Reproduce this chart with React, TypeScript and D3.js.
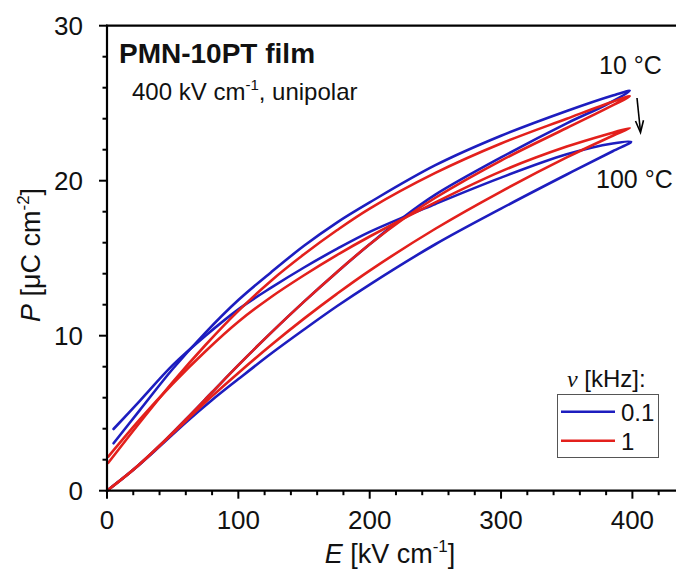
import React from "react";
import * as d3 from "d3";

const W = 676;
const H = 570;

// Axis ticks
const xMajorTicks = [0, 100, 200, 300, 400];
const yMajorTicks = [0, 10, 20, 30];
const xTickLabels = ["0", "100", "200", "300", "400"];
const yTickLabels = ["0", "10", "20", "30"];

// Legend
const legendLabels = ["0.1", "1"];
const seriesColors = ["#1d1dbf", "#e3201c"];

// 0.1 kHz, 10 °C
const b10LowerE = [0, 20, 40, 60, 80, 100, 125, 150, 175, 200, 225, 250, 300, 350, 380, 398];
const b10LowerP = [0, 1.35, 2.9, 4.6, 6.35, 8.1, 10.2, 12.2, 14.1, 15.9, 17.6, 19.1, 21.5, 23.7, 24.9, 25.8];
const b10UpperE = [398, 385, 350, 300, 250, 200, 175, 150, 125, 100, 75, 50, 25, 5];
const b10UpperP = [25.8, 25.5, 24.5, 22.9, 21.0, 18.6, 17.3, 15.8, 14.1, 12.3, 10.2, 7.85, 5.2, 3.06];

// 0.1 kHz, 100 °C
const b100LowerE = [0, 20, 40, 60, 80, 100, 125, 150, 175, 200, 250, 300, 350, 385, 399];
const b100LowerP = [0, 1.35, 2.85, 4.4, 5.85, 7.2, 8.85, 10.4, 11.9, 13.3, 15.9, 18.2, 20.4, 21.9, 22.5];
const b100UpperE = [399, 385, 350, 300, 250, 200, 175, 150, 125, 100, 75, 50, 25, 5];
const b100UpperP = [22.5, 22.4, 21.7, 20.2, 18.5, 16.7, 15.6, 14.4, 13.1, 11.7, 10.0, 8.1, 5.8, 3.98];

// 1 kHz, 10 °C
const r10LowerE = [0, 20, 40, 60, 80, 100, 125, 150, 175, 200, 225, 250, 300, 350, 380, 398];
const r10LowerP = [0, 1.35, 2.9, 4.6, 6.35, 8.1, 10.2, 12.2, 14.1, 15.9, 17.5, 18.9, 21.3, 23.4, 24.65, 25.45];
const r10UpperE = [398, 385, 350, 300, 250, 200, 175, 150, 125, 100, 75, 50, 25, 1];
const r10UpperP = [25.45, 25.1, 24.0, 22.4, 20.5, 18.2, 16.8, 15.25, 13.55, 11.6, 9.4, 7.0, 4.4, 1.8];

// 1 kHz, 100 °C
const r100LowerE = [0, 20, 40, 60, 80, 100, 125, 150, 175, 200, 250, 300, 350, 385, 398];
const r100LowerP = [0, 1.35, 2.9, 4.5, 6.1, 7.6, 9.4, 11.1, 12.7, 14.2, 16.9, 19.3, 21.5, 22.9, 23.4];
const r100UpperE = [398, 385, 350, 300, 250, 200, 175, 150, 125, 100, 75, 50, 25, 1];
const r100UpperP = [23.4, 23.1, 22.2, 20.6, 18.6, 16.4, 15.2, 13.9, 12.5, 10.9, 9.0, 6.9, 4.6, 2.2];

type Pt = [number, number];

function loop(le: number[], lp: number[], ue: number[], up: number[]): Pt[] {
  const pts: Pt[] = le.map((e, i) => [e, lp[i]] as Pt);
  ue.forEach((e, i) => {
    if (i === 0) return;
    pts.push([e, up[i]]);
  });
  return pts;
}

export default function App() {
  const x = d3.scaleLinear().domain([0, 433.2]).range([107, 676]);
  const y = d3.scaleLinear().domain([0, 30]).range([490.7, 25.7]);

  const line = d3
    .line<Pt>()
    .x((d) => x(d[0]))
    .y((d) => y(d[1]))
    .curve(d3.curveCatmullRom.alpha(0.5));

  const loops = [
    { pts: loop(b10LowerE, b10LowerP, b10UpperE, b10UpperP), color: seriesColors[0] },
    { pts: loop(b100LowerE, b100LowerP, b100UpperE, b100UpperP), color: seriesColors[0] },
    { pts: loop(r10LowerE, r10LowerP, r10UpperE, r10UpperP), color: seriesColors[1] },
    { pts: loop(r100LowerE, r100LowerP, r100UpperE, r100UpperP), color: seriesColors[1] },
  ];

  const xMinor = d3.range(0, 421, 20).filter((v) => v % 100 !== 0);
  const yMinor = d3.range(0, 31, 2).filter((v) => v % 10 !== 0);

  const font = "'Liberation Sans', Arial, sans-serif";
  const x0 = x(0);
  const y0 = y(0);

  return (
    <svg
      width={W}
      height={H}
      style={{ position: "absolute", left: 0, top: 0, background: "#fff" }}
      fontFamily={font}
    >
      <rect x={0} y={0} width={W} height={H} fill="#fff" />

      {/* curves */}
      {loops.map((l, i) => (
        <path
          key={i}
          d={line(l.pts) || ""}
          fill="none"
          stroke={l.color}
          strokeWidth={2.6}
          strokeLinejoin="round"
          strokeLinecap="round"
        />
      ))}

      {/* axes */}
      <line x1={x0} x2={x0} y1={y(30) - 1} y2={y0 + 1} stroke="#000" strokeWidth={2.2} />
      <line x1={x0 - 1} x2={W} y1={y0} y2={y0} stroke="#000" strokeWidth={2.2} />
      <line x1={x0 - 1} x2={W} y1={y(30)} y2={y(30)} stroke="#000" strokeWidth={2.2} />

      {xMajorTicks.map((t, i) => (
        <g key={"xt" + t}>
          <line x1={x(t)} x2={x(t)} y1={y0} y2={y0 + 8} stroke="#000" strokeWidth={2} />
          <text x={x(t)} y={529} fontSize={26} textAnchor="middle" fill="#111">
            {xTickLabels[i]}
          </text>
        </g>
      ))}
      {xMinor.map((t) => (
        <line key={"xm" + t} x1={x(t)} x2={x(t)} y1={y0} y2={y0 + 4.5} stroke="#000" strokeWidth={2} />
      ))}
      {yMajorTicks.map((t, i) => (
        <g key={"yt" + t}>
          <line x1={x0 - 8} x2={x0} y1={y(t)} y2={y(t)} stroke="#000" strokeWidth={2} />
          <text x={83} y={y(t) + 9.3} fontSize={26} textAnchor="end" fill="#111">
            {yTickLabels[i]}
          </text>
        </g>
      ))}
      {yMinor.map((t) => (
        <line key={"ym" + t} x1={x0 - 4.5} x2={x0} y1={y(t)} y2={y(t)} stroke="#000" strokeWidth={2} />
      ))}

      {/* axis labels */}
      <text x={390} y={563} fontSize={27} textAnchor="middle" fill="#111">
        <tspan fontStyle="italic">E</tspan>
        <tspan> [kV cm</tspan>
        <tspan fontSize={17} dy={-11}>-1</tspan>
        <tspan dy={11}>]</tspan>
      </text>
      <text
        transform={`translate(40, 255) rotate(-90)`}
        fontSize={27}
        textAnchor="middle"
        fill="#111"
      >
        <tspan fontStyle="italic">P</tspan>
        <tspan> [μC cm</tspan>
        <tspan fontSize={17} dy={-11}>-2</tspan>
        <tspan dy={11}>]</tspan>
      </text>

      {/* annotations */}
      <text x={119} y={63} fontSize={28} fontWeight="bold" fill="#111">
        PMN-10PT film
      </text>
      <text x={132} y={100} fontSize={24} fill="#111">
        <tspan>400 kV cm</tspan>
        <tspan fontSize={15} dy={-10}>-1</tspan>
        <tspan dy={10}>, unipolar</tspan>
      </text>
      <text x={599} y={74} fontSize={25} fill="#111">
        10 °C
      </text>
      <text x={596} y={188} fontSize={25} fill="#111">
        100 °C
      </text>

      {/* arrow */}
      <line x1={637} y1={98} x2={640.3} y2={130} stroke="#000" strokeWidth={1.6} />
      <path d="M 635.5 121 L 640.5 132.5 L 643.5 120.3" fill="none" stroke="#000" strokeWidth={1.6} />

      {/* legend */}
      <text x={567} y={387} fontSize={24} fill="#111">
        <tspan fontStyle="italic" fontFamily="'Liberation Serif', serif">ν</tspan>
        <tspan> [kHz]:</tspan>
      </text>
      <rect x={557.5} y={394.5} width={101} height={63} fill="#fff" stroke="#555" strokeWidth={1} />
      {legendLabels.map((lab, i) => (
        <g key={lab}>
          <line
            x1={561}
            x2={615}
            y1={411.7 + i * 29}
            y2={411.7 + i * 29}
            stroke={seriesColors[i]}
            strokeWidth={2.6}
          />
          <text x={621} y={420.5 + i * 29} fontSize={24} fill="#111">
            {lab}
          </text>
        </g>
      ))}
    </svg>
  );
}
